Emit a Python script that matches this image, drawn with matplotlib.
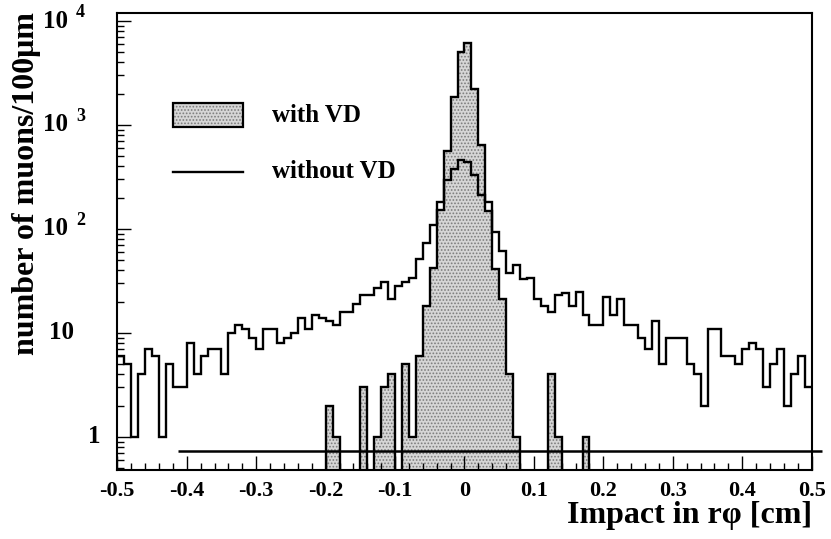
import numpy as np
import matplotlib
matplotlib.use("Agg")
import matplotlib.pyplot as plt
from matplotlib.patches import Rectangle
from matplotlib.lines import Line2D
from matplotlib.transforms import blended_transform_factory
from matplotlib.ticker import FixedLocator, FixedFormatter, MultipleLocator, LogLocator, NullFormatter

# muon impact parameter histograms, 100 um bins from -0.5 to 0.5 cm
without_vd = [
    6, 5, 1, 4, 7, 6, 1, 5, 3, 3,
    8, 4, 6, 7, 7, 4, 10, 12, 11, 9,
    7, 11, 11, 8, 9, 10, 14, 11, 15, 14,
    13, 12, 16, 16, 19, 23, 23, 27, 31, 21,
    28, 31, 34, 51, 73, 110, 183, 296, 380, 460,
    440, 330, 210, 183, 94, 61, 38, 45, 33, 34,
    21, 18, 16, 23, 24, 18, 25, 15, 12, 12,
    22, 15, 21, 12, 12, 9, 7, 13, 5, 9,
    9, 9, 5, 4, 2, 11, 11, 6, 6, 5,
    7, 8, 7, 3, 5, 7, 2, 4, 6, 3,
]
with_vd = [
    0, 0, 0, 0, 0, 0, 0, 0, 0, 0,
    0, 0, 0, 0, 0, 0, 0, 0, 0, 0,
    0, 0, 0, 0, 0, 0, 0, 0, 0, 0,
    2, 1, 0, 0, 0, 3, 0, 1, 3, 4,
    0, 5, 1, 6, 18, 42, 152, 560, 1850, 5000,
    6100, 2200, 640, 150, 41, 21, 4, 1, 0, 0,
    0, 0, 4, 1, 0, 0, 0, 1, 0, 0,
    0, 0, 0, 0, 0, 0, 0, 0, 0, 0,
    0, 0, 0, 0, 0, 0, 0, 0, 0, 0,
    0, 0, 0, 0, 0, 0, 0, 0, 0, 0,
]
x_ticks = [-0.5, -0.4, -0.3, -0.2, -0.1, 0.0, 0.1, 0.2, 0.3, 0.4, 0.5]
x_tick_labels = ["-0.5", "-0.4", "-0.3", "-0.2", "-0.1", "0", "0.1", "0.2", "0.3", "0.4", "0.5"]
y_ticks = [1, 10, 100, 1000, 10000]
y_tick_base = ["1", "10", "10", "10", "10"]
y_tick_power = ["", "", "2", "3", "4"]

plt.rcParams["font.family"] = ["Liberation Serif", "DejaVu Serif"]
plt.rcParams["font.weight"] = "bold"
plt.rcParams["axes.unicode_minus"] = False
plt.rcParams["hatch.linewidth"] = 0.8

edges = np.linspace(-0.5, 0.5, len(without_vd) + 1)
floor = 1e-2
vd = np.array(with_vd, dtype=float)
vd[vd <= 0] = floor

W, H = 831, 539
fig = plt.figure(figsize=(W / 100, H / 100), dpi=100)
ax = fig.add_axes([117.3 / W, 1 - 470 / H, 694.4 / W, 457 / H])
ax.set_yscale("log")

# shaded histogram with the vertex detector
ax.stairs(vd, edges, baseline=floor, fill=True, facecolor="#d6d6d6",
          edgecolor="#7c7c7c", hatch=".....", linewidth=0)
ax.stairs(vd, edges, baseline=floor, color="black", linewidth=1.7)
# plain line without it
ax.stairs(without_vd, edges, baseline=None, color="black", linewidth=1.7)

ax.plot([-0.413, 0.515], [0.73, 0.73], color="black", linewidth=1.8,
        clip_on=False, solid_capstyle="butt")

ax.set_xlim(-0.5, 0.5)
ax.set_ylim(0.481, 11940)

ax.xaxis.set_major_locator(FixedLocator(x_ticks))
ax.xaxis.set_major_formatter(FixedFormatter(x_tick_labels))
ax.xaxis.set_minor_locator(MultipleLocator(0.02))
ax.yaxis.set_major_locator(FixedLocator(y_ticks))
ax.yaxis.set_major_formatter(NullFormatter())
ax.yaxis.set_minor_locator(LogLocator(base=10, subs=np.arange(2, 10), numticks=20))
ax.yaxis.set_minor_formatter(NullFormatter())

ax.tick_params(which="both", direction="in", top=False, right=False, width=1.0)
ax.tick_params(which="major", length=10)
ax.tick_params(which="minor", length=5)
ax.tick_params(axis="x", which="major", labelsize=16, pad=8)
for s in ax.spines.values():
    s.set_linewidth(1.5)

# y labels: 1, 10 and powers of ten with a raised exponent
ylab = blended_transform_factory(fig.transFigure, ax.transData)
for val, base, power in zip(y_ticks, y_tick_base, y_tick_power):
    if power:
        ax.text(68 / W, val, base, transform=ylab, ha="right", va="center",
                fontsize=18, fontweight="bold")
        ax.text(76 / W, val * 1.2, power, transform=ylab, ha="left",
                va="center", fontsize=13, fontweight="bold")
    elif base == "10":
        ax.text(74 / W, val, base, transform=ylab, ha="right", va="center",
                fontsize=18, fontweight="bold")
    else:
        ax.text(100 / W, val, base, transform=ylab, ha="right", va="center",
                fontsize=18, fontweight="bold")

# legend drawn by hand
ax.add_patch(Rectangle((0.0806, 0.750), 0.1009, 0.0524, transform=ax.transAxes,
                       facecolor="#d6d6d6", edgecolor="#7c7c7c", hatch=".....",
                       linewidth=0, clip_on=False))
ax.add_patch(Rectangle((0.0806, 0.750), 0.1009, 0.0524, transform=ax.transAxes,
                       fill=False, edgecolor="black", linewidth=1.6, clip_on=False))
ax.add_line(Line2D([0.0806, 0.1815], [0.6514, 0.6514], transform=ax.transAxes,
                   color="black", linewidth=1.7))
ax.text(0.2221, 0.7768, "with VD", transform=ax.transAxes, ha="left",
        va="center", fontsize=18, fontweight="bold")
ax.text(0.2221, 0.654, "without VD", transform=ax.transAxes, ha="left",
        va="center", fontsize=18, fontweight="bold")

fig.text(27 / W, 1 - 184 / H, "number of muons/100\u03bcm", rotation=90,
         ha="center", va="center", fontsize=23, fontweight="bold")
fig.text(812 / W, 1 - 515 / H, "Impact in r\u03c6 [cm]", ha="right",
         va="center", fontsize=23, fontweight="bold")

fig.savefig("out.png", dpi=100)
